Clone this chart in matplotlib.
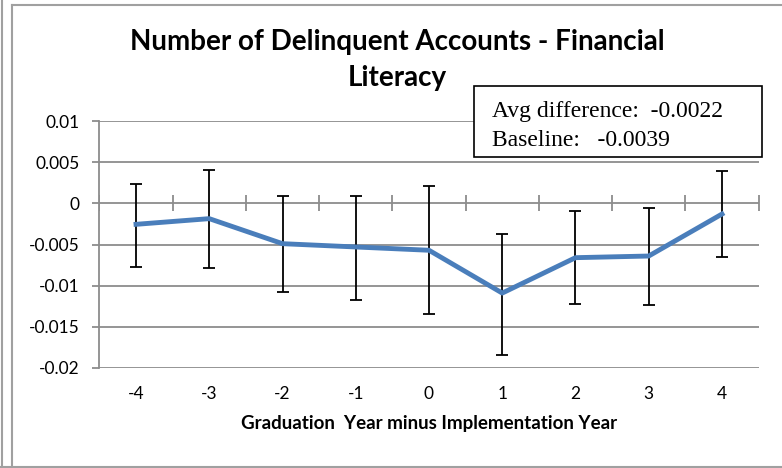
import matplotlib.pyplot as plt
import matplotlib.patches as mpatches
import matplotlib.lines as mlines
import numpy as np

# values
years = [-4, -3, -2, -1, 0, 1, 2, 3, 4]
estimate = [-0.00255, -0.00186, -0.0049, -0.0053, -0.0057, -0.0109, -0.0066, -0.0064, -0.0013]
upper = [0.0024, 0.0041, 0.00094, 0.00094, 0.0021, -0.0037, -0.00097, -0.0006, 0.0039]
lower = [-0.0077, -0.0078, -0.0108, -0.0117, -0.0135, -0.0184, -0.0122, -0.0123, -0.0065]
y_ticks = [0.01, 0.005, 0, -0.005, -0.01, -0.015, -0.02]
y_ticklabels = ['0.01', '0.005', '0', '-0.005', '-0.01', '-0.015', '-0.02']
avg_diff = '-0.0022'
baseline = '-0.0039'

grey = '#8c8c8c'
plt.rcParams['font.family'] = ['Lato', 'DejaVu Sans']

fig = plt.figure(figsize=(7.82, 4.68), dpi=100)
W, H = 782, 468
ax = fig.add_axes([99.4 / W, 1 - 368 / H, 659.2 / W, 247 / H])

pos = np.arange(len(years))
est = np.array(estimate)
yerr = [est - np.array(lower), np.array(upper) - est]

ax.set_xlim(-0.5, len(years) - 0.5)
ax.set_ylim(-0.02, 0.01)
ax.set_yticks(y_ticks)
ax.set_yticklabels(y_ticklabels)
ax.grid(axis='y', color=grey, lw=1.3)
ax.set_axisbelow(True)

# category axis crossing at zero, with tick marks between categories
bounds = np.arange(len(years) + 1) - 0.5
ax.plot(bounds, np.zeros_like(bounds), ls='none', marker='|', ms=12, mew=1.3, color=grey, zorder=1)

ax.errorbar(pos, est, yerr=yerr, fmt='none', ecolor='black', elinewidth=1.3,
            capsize=4, capthick=1.3, zorder=2)
ax.plot(pos, est, color='#4a7ebb', lw=3.5, solid_joinstyle='round', zorder=3)

ax.set_xticks(pos)
ax.set_xticklabels([str(y) for y in years])
ax.tick_params(axis='x', length=0, pad=13, labelsize=12.5)
ax.tick_params(axis='y', length=5, width=1.3, color=grey, labelsize=12.5, pad=9)
for s in ['top', 'right', 'bottom']:
    ax.spines[s].set_visible(False)
ax.spines['left'].set_color(grey)
ax.spines['left'].set_linewidth(1.3)

ax.set_xlabel('Graduation  Year minus Implementation Year', fontweight='bold',
              fontsize=13.5, labelpad=9)

fig.text(397 / W, 1 - 42 / H, 'Number of Delinquent Accounts - Financial', ha='center',
         va='center', fontsize=20, fontweight='bold')
fig.text(397 / W, 1 - 78 / H, 'Literacy', ha='center', va='center', fontsize=20,
         fontweight='bold')

# annotation box
fig.patches.append(mpatches.Rectangle((474 / W, 1 - 157 / H), 288 / W, 71 / H,
                                      transform=fig.transFigure, facecolor='white',
                                      edgecolor='black', lw=1.2, zorder=5))
fig.text(492 / W, 1 - 116.5 / H, 'Avg difference:  ' + avg_diff, family='Liberation Serif',
         fontsize=17, va='baseline', ha='left', zorder=6)
fig.text(492 / W, 1 - 145.5 / H, 'Baseline:   ' + baseline, family='Liberation Serif',
         fontsize=17, va='baseline', ha='left', zorder=6)

# outer chart frame
for line in [((2 / W, 2 / W), (0, 1)), ((11.5 / W, 11.5 / W), (1 - 467 / H, 1 - 5 / H)),
             ((11.5 / W, 1), (1 - 5 / H, 1 - 5 / H)), ((0, 1), (1 - 467 / H, 1 - 467 / H))]:
    fig.lines.append(mlines.Line2D(line[0], line[1], transform=fig.transFigure,
                                   color='#a0a0a0', lw=1.5))

fig.savefig('out.png', dpi=100)
